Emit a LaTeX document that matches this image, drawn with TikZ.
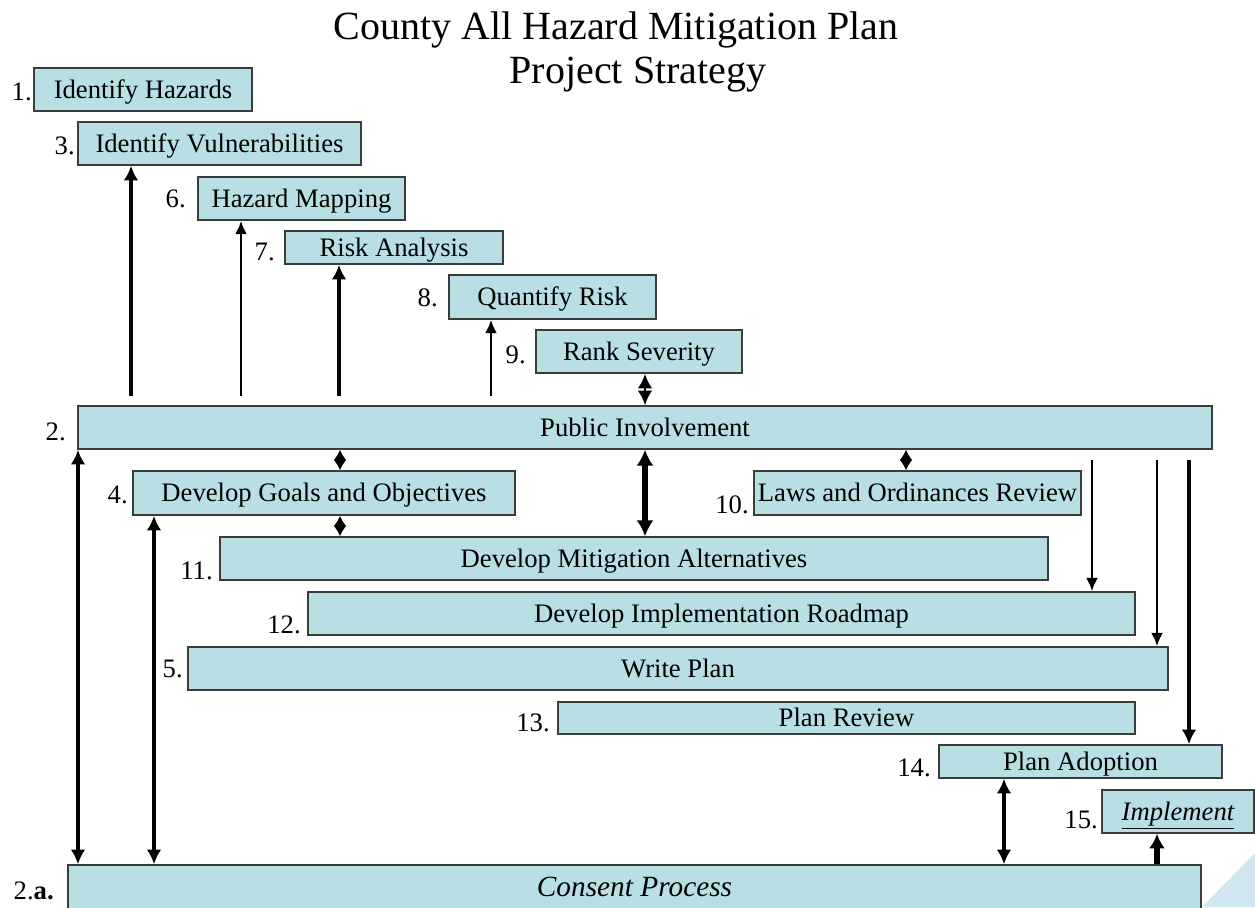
\documentclass[tikz,border=0pt]{standalone}
\usepackage{fontspec}
\setmainfont{Liberation Serif}
\usepackage{tikz}
\usetikzlibrary{arrows.meta}
\definecolor{boxfill}{RGB}{184,223,227}
\definecolor{boxline}{RGB}{60,60,60}
\definecolor{cornerfill}{RGB}{206,230,237}
\tikzset{
  stepbox/.style={draw=boxline, fill=boxfill, line width=1.1pt, inner sep=0pt, text height=14.5pt, text depth=1.2pt, font=\fontsize{20}{24}\selectfont},
  numlabel/.style={anchor=east, inner sep=0pt, font=\fontsize{20}{24}\selectfont},
  uplink/.style={line width=2.8pt, -{Latex[length=11pt,width=11pt]}},
  thinlink/.style={line width=1.9pt, -{Latex[length=10pt,width=9pt]}},
  bothlink/.style={line width=2.8pt, {Latex[length=11pt,width=11pt]}-{Latex[length=11pt,width=11pt]}},
  fatlink/.style={line width=4.5pt, {Latex[length=12pt,width=13pt]}-{Latex[length=12pt,width=13pt]}},
  fatuplink/.style={line width=4.5pt, -{Latex[length=11pt,width=12pt]}},
  diamondlink/.style={line width=2pt, {Latex[length=8pt,width=10pt]}-{Latex[length=8pt,width=10pt]}}
}
\newcommand{\hmstep}[5] {\node at (#1) (#2) [stepbox, minimum width=#3*0.75pt, minimum height=#4*0.75pt] {#5};}
\newcommand{\hmnum}[3] {\node at (#1) (#2) [numlabel] {#3};}
\newcommand{\hmlink}[4] {\draw [#1] (#2 -| #4,0) -- (#3 -| #4,0);}

\begin{document}
\begin{tikzpicture}[x=0.75pt, y=-0.75pt]
\useasboundingbox (0,0) rectangle (1255,907);
\fill [cornerfill] (1202,907) -- (1255,853) -- (1255,907) -- cycle;

\node at (616,39) (title1) [anchor=base, font=\fontsize{30}{36}\selectfont] {County All Hazard Mitigation Plan};
\node at (638,83) (title2) [anchor=base, font=\fontsize{30}{36}\selectfont] {Project Strategy};

\hmstep {143,89.5} {haz} {218} {43} {Identify Hazards};
\hmstep {219.5,143.5} {vul} {283} {43} {Identify Vulnerabilities};
\hmstep {301.5,198.5} {map} {207} {43} {Hazard Mapping};
\hmstep {394,247.5} {risk} {218} {33} {Risk Analysis};
\hmstep {552.5,297} {quant} {207} {44} {Quantify Risk};
\hmstep {639,351.5} {rank} {206} {43} {Rank Severity};
\hmstep {645,427.5} {pub} {1134} {43} {Public Involvement};
\hmstep {324,493} {goals} {382} {44} {Develop Goals and Objectives};
\hmstep {917.5,493} {laws} {327} {44} {Laws and Ordinances Review};
\hmstep {634,558.5} {mitig} {828} {43} {Develop Mitigation Alternatives};
\hmstep {721.5,613.5} {road} {827} {43} {Develop Implementation Roadmap};
\hmstep {678,668.5} {write} {980} {43} {Write Plan};
\hmstep {846.5,718} {review} {577} {32} {Plan Review};
\hmstep {1080.5,761.5} {adopt} {283} {33} {Plan Adoption};
\hmstep {1178,811.5} {impl} {152} {43} {\itshape\underline{Implement}};
\hmstep {634.5,888} {consent} {1133} {46} {\fontsize{22}{26}\selectfont\itshape Consent Process};

\hmnum {32,92} {n1} {1.};
\hmnum {75,146} {n3} {3.};
\hmnum {186,199} {n6} {6.};
\hmnum {275,252} {n7} {7.};
\hmnum {438,298} {n8} {8.};
\hmnum {526,355} {n9} {9.};
\hmnum {66,432} {n2} {2.};
\hmnum {128,495} {n4} {4.};
\hmnum {749,505} {n10} {10.};
\hmnum {213,571} {n11} {11.};
\hmnum {301,625} {n12} {12.};
\hmnum {183,669} {n5} {5.};
\hmnum {550,723} {n13} {13.};
\hmnum {931,768} {n14} {14.};
\hmnum {1098,820} {n15} {15.};
\hmnum {54,891} {n2a} {2.\textbf{a.}};

% up to the hazard steps
\hmlink {uplink} {[yshift=7pt]pub.north} {vul.south} {131};
\hmlink {thinlink} {[yshift=7pt]pub.north} {map.south} {241};
\hmlink {uplink} {[yshift=7pt]pub.north} {risk.south} {339};
\hmlink {thinlink} {[yshift=7pt]pub.north} {quant.south} {491};
\hmlink {bothlink, line width=2pt} {rank.south} {pub.north} {645};

% public involvement
\hmlink {diamondlink} {pub.south} {goals.north} {340};
\hmlink {diamondlink} {goals.south} {mitig.north} {340};
\hmlink {fatlink} {pub.south} {mitig.north} {645};
\hmlink {diamondlink} {pub.south} {laws.north} {906};
\hmlink {thinlink} {[yshift=-8pt]pub.south} {road.north} {1092};
\hmlink {thinlink} {[yshift=-8pt]pub.south} {write.north} {1157};
\hmlink {uplink} {[yshift=-8pt]pub.south} {adopt.north} {1189};

% consent process
\hmlink {bothlink} {pub.south} {consent.north} {78};
\hmlink {bothlink} {goals.south} {consent.north} {154};
\hmlink {bothlink} {adopt.south} {consent.north} {1004};
\hmlink {fatuplink} {consent.north} {impl.south} {1157};
\end{tikzpicture}
\end{document}
